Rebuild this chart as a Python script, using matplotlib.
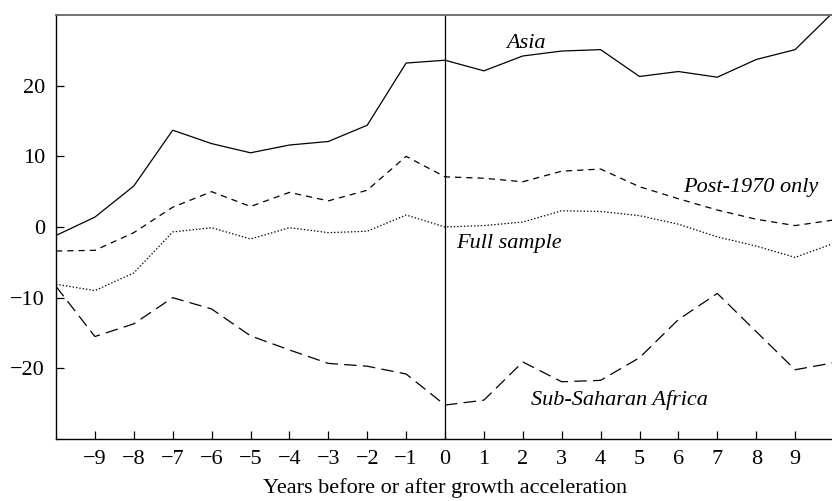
import numpy as np
import matplotlib.pyplot as plt

plt.rcParams['font.family'] = ['Liberation Serif', 'DejaVu Serif']
plt.rcParams['axes.unicode_minus'] = True

# years relative to the growth acceleration
years = list(range(-10, 11))

asia = [-1.2, 1.4, 5.8, 13.7, 11.8, 10.5, 11.6, 12.1, 14.4, 23.2, 23.6,
        22.1, 24.2, 24.9, 25.1, 21.3, 22.0, 21.2, 23.7, 25.1, 30.5]
post_1970 = [-3.4, -3.3, -0.8, 2.8, 5.0, 2.9, 4.9, 3.7, 5.2, 10.0, 7.1,
             6.9, 6.4, 7.9, 8.2, 5.7, 4.0, 2.4, 1.1, 0.2, 1.0]
full_sample = [-8.1, -9.0, -6.5, -0.7, -0.1, -1.7, -0.1, -0.8, -0.6, 1.7, 0.0,
               0.2, 0.7, 2.3, 2.2, 1.6, 0.4, -1.4, -2.7, -4.3, -2.3]
ssa = [-8.4, -15.5, -13.7, -10.0, -11.6, -15.4, -17.4, -19.3, -19.7, -20.8, -25.2,
       -24.5, -19.1, -21.9, -21.7, -18.5, -13.1, -9.4, -14.8, -20.2, -19.2]

xticks = list(range(-9, 10))
yticks = [-20, -10, 0, 10, 20]

fig = plt.figure(figsize=(8.32, 5.01), dpi=100)
ax = fig.add_axes([56 / 832, 1 - 439 / 501, 778 / 832, 424 / 501])

lw = 0.9
ax.plot(years, asia, color='black', lw=lw, solid_joinstyle='miter')
ax.plot(years, post_1970, color='black', lw=lw, dashes=(5, 4))
ax.plot(years, full_sample, color='black', lw=lw, dashes=(1.1, 1.6))
ax.plot(years, ssa, color='black', lw=lw, dashes=(10, 5))
ax.axvline(0, color='black', lw=lw)

ax.set_xlim(-10, 10)
ax.set_ylim(-30, 30)
ax.set_xticks(xticks)
ax.set_yticks(yticks)
fs = 16
ax.tick_params(direction='in', length=6, width=0.9, labelsize=fs, color='black')
ax.tick_params(axis='x', pad=8)
ax.tick_params(axis='y', pad=8)

ax.spines['right'].set_visible(False)
ax.spines['top'].set_color('#666666')
ax.spines['top'].set_linewidth(1.3)
for s in ['left', 'bottom']:
    ax.spines[s].set_linewidth(1.0)
    ax.spines[s].set_color('black')

lab = dict(fontsize=fs, style='italic', va='baseline', ha='left')
ax.text(1.57, 25.3, 'Asia', **lab)
ax.text(6.11, 5.0, 'Post-1970 only', **lab)
ax.text(0.28, -3.0, 'Full sample', **lab)
ax.text(2.21, -25.2, 'Sub-Saharan Africa', **lab)

ax.set_xlabel('Years before or after growth acceleration', fontsize=fs, labelpad=6.5)

fig.savefig('out.png', dpi=100)
